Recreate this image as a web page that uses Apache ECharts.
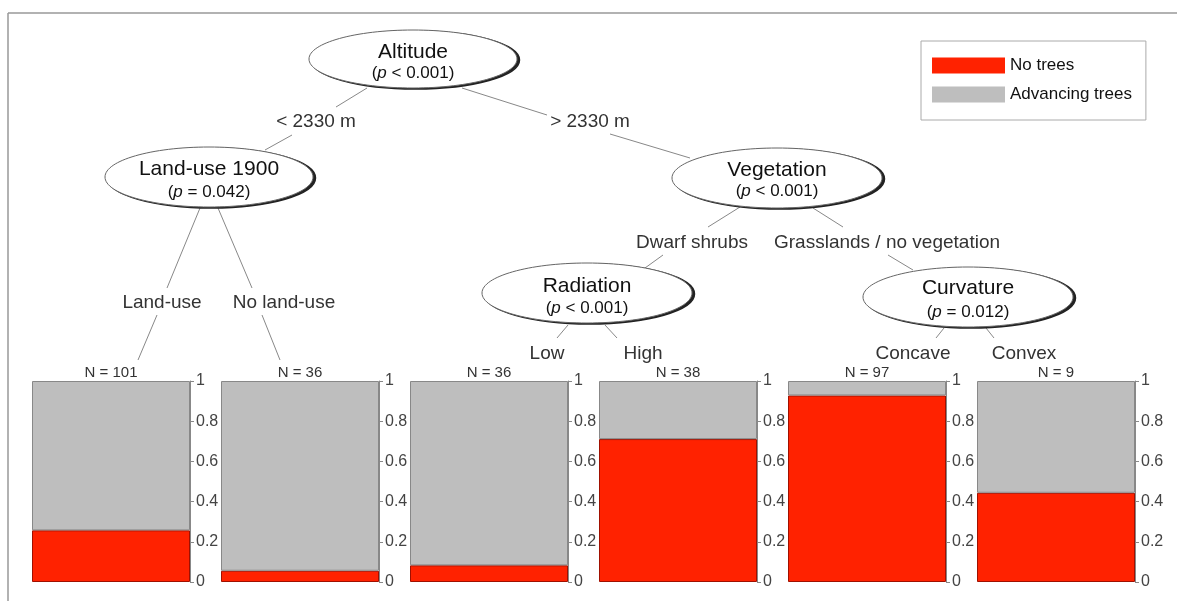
<!DOCTYPE html>
<html>
<head>
<meta charset="utf-8">
<script src="https://cdn.jsdelivr.net/npm/echarts@6/dist/echarts.min.js"></script>
<style>html,body{margin:0;padding:0;background:#fff;}#c{width:1177px;height:601px;}</style>
</head>
<body>
<div id="c"></div>
<script>
// ---- data ----
var nLabels = ['N = 101', 'N = 36', 'N = 36', 'N = 38', 'N = 97', 'N = 9'];
var noTrees = [0.257, 0.056, 0.083, 0.711, 0.928, 0.444];
var advancingTrees = [0.743, 0.944, 0.917, 0.289, 0.072, 0.556];
var seriesNames = ['No trees', 'Advancing trees'];
var nodeTitles = ['Altitude', 'Land-use 1900', 'Vegetation', 'Radiation', 'Curvature'];
var nodeP = [['<', '0.001'], ['=', '0.042'], ['<', '0.001'], ['<', '0.001'], ['=', '0.012']];
var edgeLabels = ['< 2330 m', '> 2330 m', 'Land-use', 'No land-use', 'Dwarf shrubs',
  'Grasslands / no vegetation', 'Low', 'High', 'Concave', 'Convex'];

// ---- layout ----
var FONT = '"Liberation Sans", Arial, sans-serif';
var RED = '#ff2200', GRAY = '#bebebe';
var panelLeft0 = 32, panelStep = 189, panelW = 158, panelTop = 381, panelH = 201;
var nodes = [
  {cx: 413, cy: 59, rx: 104, ry: 29, t1: 52, t2: 73},
  {cx: 209, cy: 177, rx: 104, ry: 30, t1: 169, t2: 192},
  {cx: 777, cy: 178, rx: 105, ry: 30, t1: 170, t2: 191},
  {cx: 587, cy: 293, rx: 105, ry: 30, t1: 286, t2: 308},
  {cx: 968, cy: 297, rx: 105, ry: 30, t1: 288, t2: 312}
];
var edgeLabelPos = [[316,122],[590,122],[162,303],[284,303],[692,243],[887,243],[547,354],[643,354],[913,354],[1024,354]];
var segs = [
  [367,88,336,107],[292,135,265,150],
  [462,88,547,115],[610,134,690,158],
  [200,208,167,288],[157,315,138,360],
  [218,208,252,288],[262,315,280,360],
  [740,207,708,227],[663,255,645,268],
  [813,208,843,227],[888,255,913,270],
  [568,325,557,338],[605,325,617,338],
  [944,328,936,338],[986,328,994,338]
];

var grids = [], xAxes = [], yAxes = [], series = [];
for (var i = 0; i < nLabels.length; i++) {
  grids.push({left: panelLeft0 + panelStep * i, top: panelTop, width: panelW, height: panelH});
  xAxes.push({type: 'category', gridIndex: i, position: 'top', data: [nLabels[i]],
    axisLine: {show: false}, axisTick: {show: false},
    axisLabel: {fontFamily: FONT, fontSize: 15, color: '#333', margin: 1}});
  yAxes.push({type: 'value', gridIndex: i, position: 'right', min: 0, max: 1, interval: 0.2,
    splitLine: {show: false},
    axisLine: {show: true, lineStyle: {color: '#888', width: 1}},
    axisTick: {show: true, length: 4, lineStyle: {color: '#888'}},
    axisLabel: {fontFamily: FONT, fontSize: 16, color: '#444', margin: 6}});
  series.push({name: seriesNames[0], type: 'bar', stack: 's' + i, xAxisIndex: i, yAxisIndex: i,
    data: [noTrees[i]], barWidth: '100%', silent: true,
    itemStyle: {color: RED, borderColor: '#a01000', borderWidth: 1}});
  series.push({name: seriesNames[1], type: 'bar', stack: 's' + i, xAxisIndex: i, yAxisIndex: i,
    data: [advancingTrees[i]], barWidth: '100%', silent: true,
    itemStyle: {color: GRAY, borderColor: '#888', borderWidth: 1}});
}

var graphics = [];
// frame
graphics.push({type: 'line', shape: {x1: 8, y1: 13, x2: 1177, y2: 13}, style: {stroke: '#999', lineWidth: 1.5}, silent: true});
graphics.push({type: 'line', shape: {x1: 8, y1: 13, x2: 8, y2: 601}, style: {stroke: '#999', lineWidth: 1.5}, silent: true});
// edges
segs.forEach(function (s) {
  graphics.push({type: 'line', shape: {x1: s[0], y1: s[1], x2: s[2], y2: s[3]}, style: {stroke: '#888', lineWidth: 1}, silent: true});
});
// edge labels
edgeLabels.forEach(function (t, k) {
  graphics.push({type: 'text', x: edgeLabelPos[k][0], y: edgeLabelPos[k][1], silent: true,
    style: {text: t, fontSize: 19, fontFamily: FONT, fill: '#333', align: 'center', verticalAlign: 'middle'}});
});
// nodes
nodes.forEach(function (n, k) {
  graphics.push({type: 'ellipse', shape: {cx: n.cx + 2.5, cy: n.cy + 1, rx: n.rx, ry: n.ry},
    style: {fill: '#222', stroke: '#222', lineWidth: 1.5}, silent: true});
  graphics.push({type: 'ellipse', shape: {cx: n.cx, cy: n.cy, rx: n.rx, ry: n.ry},
    style: {fill: '#fff', stroke: '#666', lineWidth: 1}, silent: true});
  graphics.push({type: 'text', x: n.cx, y: n.t1, silent: true,
    style: {text: nodeTitles[k], fontSize: 21, fontFamily: FONT, fill: '#111', align: 'center', verticalAlign: 'middle'}});
  graphics.push({type: 'text', x: n.cx, y: n.t2, silent: true,
    style: {text: '({i|p} ' + nodeP[k][0] + ' ' + nodeP[k][1] + ')', fill: '#111', align: 'center', verticalAlign: 'middle',
      fontSize: 17, fontFamily: FONT,
      rich: {i: {fontStyle: 'italic', fontSize: 17, fontFamily: FONT, fill: '#111'}}}});
});

var chart = echarts.init(document.getElementById('c'), null, {renderer: 'canvas'});
chart.setOption({
  backgroundColor: '#fff',
  animation: false,
  legend: {
    orient: 'vertical', left: 921, top: 41,
    data: seriesNames, icon: 'rect', itemWidth: 73, itemHeight: 16, itemGap: 12,
    padding: [16, 14, 17, 11],
    itemStyle: {borderWidth: 0},
    backgroundColor: '#fff', borderColor: '#aaa', borderWidth: 1,
    textStyle: {fontFamily: FONT, fontSize: 17, color: '#111'},
    selectedMode: false
  },
  grid: grids, xAxis: xAxes, yAxis: yAxes, series: series,
  graphic: graphics
});
</script>
</body>
</html>
